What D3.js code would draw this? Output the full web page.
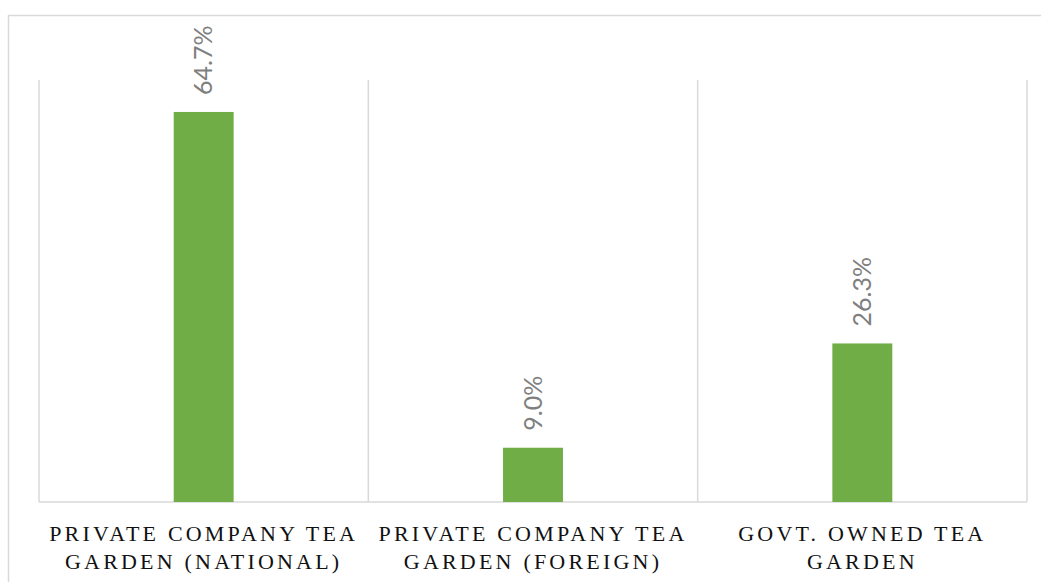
<!DOCTYPE html>
<html>
<head>
<meta charset="utf-8">
<script src="https://cdn.jsdelivr.net/npm/d3@7/dist/d3.min.js"></script>
<style>
  html, body { margin: 0; padding: 0; background: #fff; }
  svg { display: block; }
</style>
</head>
<body>
<svg id="chart" width="1041" height="582"></svg>
<script>
// Tea garden ownership share
const categories = [
  ["PRIVATE COMPANY TEA", "GARDEN (NATIONAL)"],
  ["PRIVATE COMPANY TEA", "GARDEN (FOREIGN)"],
  ["GOVT. OWNED TEA", "GARDEN"]
];
const values = [64.7, 9.0, 26.3];
const valueLabels = ["64.7%", "9.0%", "26.3%"];
const yDomain = [0, 70];

const svg = d3.select("#chart");
const plot = { left: 39, right: 1027, top: 80, bottom: 502 };

// outer chart frame
svg.append("rect")
  .attr("x", 8.5).attr("y", 15.5)
  .attr("width", 1200).attr("height", 700)
  .attr("fill", "none")
  .attr("stroke", "#d9d9d9")
  .attr("stroke-width", 1.5);

const x = d3.scaleBand()
  .domain(d3.range(categories.length))
  .range([plot.left, plot.right])
  .padding(0);

const y = d3.scaleLinear()
  .domain(yDomain)
  .range([plot.bottom, plot.top]);

// vertical category separators
const edges = d3.range(categories.length + 1).map(i =>
  i < categories.length ? x(i) : x(categories.length - 1) + x.bandwidth());
svg.append("g")
  .selectAll("line")
  .data(edges)
  .join("line")
  .attr("x1", d => d).attr("x2", d => d)
  .attr("y1", y(yDomain[1])).attr("y2", y(0))
  .attr("stroke", "#d9d9d9")
  .attr("stroke-width", 1.5);

// category axis line
svg.append("line")
  .attr("x1", plot.left).attr("x2", plot.right)
  .attr("y1", y(0)).attr("y2", y(0))
  .attr("stroke", "#d9d9d9")
  .attr("stroke-width", 1.5);

// bars
const barW = x.bandwidth() * 0.182;
svg.append("g")
  .selectAll("rect")
  .data(values)
  .join("rect")
  .attr("x", (d, i) => x(i) + x.bandwidth() / 2 - barW / 2)
  .attr("y", d => y(d))
  .attr("width", barW)
  .attr("height", d => y(0) - y(d))
  .attr("fill", "#70ad47");

// rotated value labels
svg.append("g")
  .selectAll("text")
  .data(values)
  .join("text")
  .attr("transform", (d, i) =>
    `translate(${x(i) + x.bandwidth() / 2},${y(d) - 17}) rotate(-90)`)
  .attr("dy", "0.35em")
  .attr("text-anchor", "start")
  .attr("font-family", "Lato, 'Open Sans', sans-serif")
  .attr("font-weight", 400)
  .attr("font-size", 25)
  .attr("fill", "#7f7f7f")
  .text((d, i) => valueLabels[i]);

// category labels (two lines each)
const catG = svg.append("g")
  .selectAll("text")
  .data(categories)
  .join("text")
  .attr("x", (d, i) => x(i) + x.bandwidth() / 2)
  .attr("y", 541)
  .attr("text-anchor", "middle")
  .attr("font-family", "'Liberation Serif', 'DejaVu Serif', serif")
  .attr("font-size", 22)
  .attr("letter-spacing", 3.2)
  .attr("fill", "#111");
catG.selectAll("tspan")
  .data(d => d)
  .join("tspan")
  .attr("x", function () { return d3.select(this.parentNode).attr("x"); })
  .attr("dy", (d, i) => i === 0 ? 0 : 27.5)
  .text(d => d);
</script>
</body>
</html>
